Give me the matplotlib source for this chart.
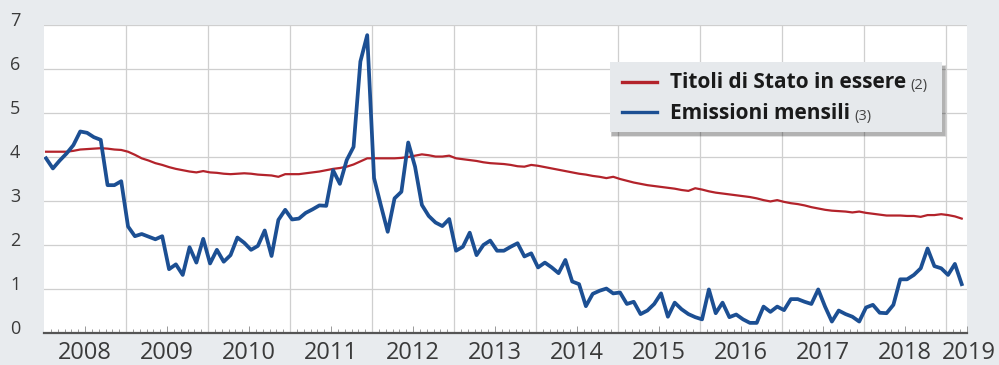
import matplotlib
matplotlib.use("Agg")
import matplotlib.pyplot as plt
from matplotlib.patches import Rectangle
from matplotlib.lines import Line2D
from matplotlib.text import Annotation
from matplotlib.ticker import FixedLocator, NullFormatter
from matplotlib.transforms import ScaledTranslation
import numpy as np

plt.rcParams['font.family'] = ['Open Sans', 'DejaVu Sans']

# ---------------- data (monthly, Jan 2008 -> Mar 2019) ----------------
start_year = 2008
emissioni_mensili = [
    3.97, 3.74, 3.92, 4.08, 4.27, 4.58, 4.55, 4.45, 4.39, 3.36, 3.36, 3.45,
    2.42, 2.20, 2.25, 2.19, 2.13, 2.20, 1.45, 1.56, 1.32, 1.95, 1.60, 2.14,
    1.58, 1.89, 1.62, 1.77, 2.17, 2.05, 1.89, 1.98, 2.33, 1.75, 2.57, 2.80,
    2.58, 2.60, 2.73, 2.81, 2.90, 2.89, 3.70, 3.39, 3.93, 4.23, 6.17, 6.77,
    3.52, 2.90, 2.30, 3.06, 3.21, 4.33, 3.78, 2.91, 2.66, 2.51, 2.43, 2.59,
    1.87, 1.96, 2.28, 1.77, 2.00, 2.10, 1.87, 1.87, 1.96, 2.04, 1.74, 1.81,
    1.49, 1.60, 1.49, 1.36, 1.66, 1.17, 1.11, 0.61, 0.89, 0.96, 1.01, 0.90,
    0.92, 0.66, 0.71, 0.43, 0.51, 0.66, 0.90, 0.37, 0.69, 0.54, 0.43, 0.36,
    0.31, 0.99, 0.45, 0.69, 0.36, 0.42, 0.31, 0.23, 0.23, 0.60, 0.48, 0.60,
    0.52, 0.77, 0.77, 0.71, 0.66, 0.99, 0.60, 0.26, 0.51, 0.43, 0.37, 0.26,
    0.58, 0.64, 0.46, 0.45, 0.64, 1.22, 1.22, 1.32, 1.47, 1.92, 1.52, 1.47,
    1.32, 1.57, 1.11,
]
titoli_in_essere = [
    4.12, 4.12, 4.12, 4.12, 4.14, 4.17, 4.18, 4.19, 4.20, 4.19, 4.17, 4.16,
    4.12, 4.05, 3.97, 3.92, 3.86, 3.82, 3.77, 3.73, 3.70, 3.67, 3.65, 3.68,
    3.65, 3.64, 3.62, 3.61, 3.62, 3.63, 3.62, 3.60, 3.59, 3.58, 3.55, 3.61,
    3.61, 3.61, 3.63, 3.65, 3.67, 3.70, 3.73, 3.75, 3.78, 3.83, 3.90, 3.97,
    3.97, 3.97, 3.97, 3.97, 3.98, 4.00, 4.03, 4.06, 4.04, 4.01, 4.01, 4.03,
    3.97, 3.95, 3.93, 3.91, 3.88, 3.86, 3.85, 3.84, 3.82, 3.79, 3.78, 3.82,
    3.80, 3.77, 3.74, 3.71, 3.68, 3.65, 3.62, 3.60, 3.57, 3.55, 3.52, 3.55,
    3.50, 3.46, 3.42, 3.39, 3.36, 3.34, 3.32, 3.30, 3.28, 3.25, 3.23, 3.29,
    3.26, 3.22, 3.19, 3.17, 3.15, 3.13, 3.11, 3.09, 3.06, 3.02, 2.99, 3.02,
    2.98, 2.95, 2.93, 2.90, 2.86, 2.83, 2.80, 2.78, 2.77, 2.76, 2.74, 2.76,
    2.73, 2.71, 2.69, 2.67, 2.67, 2.67, 2.66, 2.66, 2.64, 2.68, 2.68, 2.70,
    2.68, 2.65, 2.60,
]
year_labels = ['2008', '2009', '2010', '2011', '2012', '2013', '2014',
               '2015', '2016', '2017', '2018', '2019']
y_ticks = [0, 1, 2, 3, 4, 5, 6, 7]
series_names = ['Titoli di Stato in essere', 'Emissioni mensili']
series_notes = ['(2)', '(3)']

RED = '#b3232b'
BLUE = '#1c4f93'
BG = '#e8ebee'

n = len(emissioni_mensili)
x = start_year + (np.arange(n) + 0.3) / 12.0

fig = plt.figure(figsize=(9.99, 3.65), dpi=100, facecolor=BG)
ax = fig.add_axes([44 / 999, 1 - 333 / 365, 923 / 999, 308 / 365])
ax.set_facecolor('white')

ax.plot(x, titoli_in_essere, color=RED, lw=1.6, zorder=3, solid_joinstyle='round')
ax.plot(x, emissioni_mensili, color=BLUE, lw=2.7, zorder=4, solid_joinstyle='round')

ax.set_xlim(2008.0, 2008 + 923 / 82.0)
ax.set_ylim(0, 7)

for s in ['top', 'right', 'left']:
    ax.spines[s].set_visible(False)
ax.spines['bottom'].set_color('#555555')
ax.spines['bottom'].set_linewidth(1.6)

# y axis
ax.yaxis.set_major_locator(FixedLocator(y_ticks))
ax.set_yticklabels([str(v) for v in y_ticks])
ax.tick_params(axis='y', length=0, pad=17, labelsize=13, labelcolor='#3a3a3a')
for lab in ax.get_yticklabels():
    lab.set_horizontalalignment('right')
    lab.set_transform(lab.get_transform() + ScaledTranslation(0, 4 / 72, fig.dpi_scale_trans))

# x axis: gridlines at year boundaries, monthly minor ticks
years = np.arange(2009, 2020)
ax.xaxis.set_major_locator(FixedLocator(years))
ax.xaxis.set_major_formatter(NullFormatter())
months = 2008 + np.arange(1, 136) / 12.0
ax.xaxis.set_minor_locator(FixedLocator(months))
ax.tick_params(axis='x', which='major', length=0)
ax.tick_params(axis='x', which='minor', direction='in', length=3, width=0.7, color='#999999')
ax.grid(True, which='major', color='#cfcfcf', lw=0.9)
ax.set_axisbelow(True)

# year labels at mid-years
sec = ax.secondary_xaxis('bottom')
label_pos = [int(y) + 0.5 for y in year_labels[:-1]] + [2019.25]
sec.set_xticks(label_pos)
sec.set_xticklabels(year_labels)
sec.tick_params(axis='x', direction='in', length=5, width=0.7, color='#999999',
                pad=6, labelsize=17, labelcolor='#3a3a3a')
sec.spines['bottom'].set_visible(False)
last = sec.get_xticklabels()[-1]
last.set_transform(last.get_transform() + ScaledTranslation(2 / 72, 0, fig.dpi_scale_trans))

# legend box (manual, with shadow)
bx0, bx1 = 610 / 999, 942 / 999
by0, by1 = 1 - 132 / 365, 1 - 62 / 365
for k, a in enumerate([0.05, 0.07, 0.09, 0.12]):
    off = (4 - k) / 999
    fig.add_artist(Rectangle((bx0 + 2 / 999 - off * 0.3, by0 - 4 / 365 - off * 0.5),
                             bx1 - bx0 + off * 0.6 + 1 / 999, by1 - by0 + off,
                             transform=fig.transFigure, facecolor='black', alpha=a,
                             edgecolor='none', zorder=10))
fig.add_artist(Rectangle((bx0, by0), bx1 - bx0, by1 - by0, transform=fig.transFigure,
                         facecolor='#e6e9ec', edgecolor='none', zorder=11))
colors = [RED, BLUE]
handle_y = [1 - 82 / 365, 1 - 112 / 365]
base_y = [1 - 88.5 / 365, 1 - 118.5 / 365]
for name, note, c, hy, ty in zip(series_names, series_notes, colors, handle_y, base_y):
    fig.add_artist(Line2D([622 / 999, 657 / 999], [hy, hy], transform=fig.transFigure,
                          color=c, lw=2.4, zorder=12))
    t = fig.text(670 / 999, ty, name, fontsize=15, fontweight='bold',
                 color='#1a1a1a', va='baseline', ha='left', zorder=12)
    an = Annotation(note, xy=(1, 0), xycoords=t, xytext=(3, 0), textcoords='offset points',
                    fontsize=10.5, color='#444444', va='bottom', ha='left',
                    annotation_clip=False)
    an.set_zorder(12)
    fig.add_artist(an)

fig.savefig('out.png', dpi=100, facecolor=BG)
